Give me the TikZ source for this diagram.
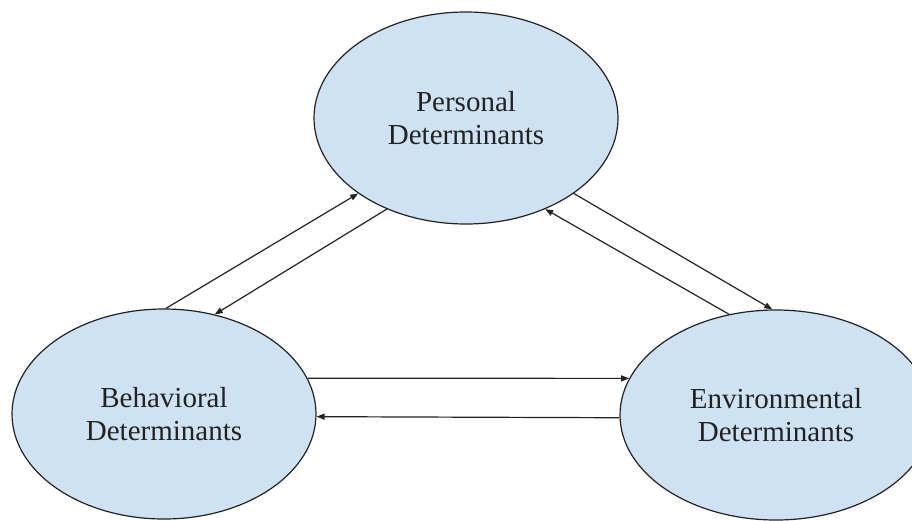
\documentclass[tikz,border=0pt]{standalone}
\usepackage{fontspec}
\setmainfont{Liberation Serif}
\usetikzlibrary{shapes.geometric,arrows.meta}
\definecolor{ellfill}{HTML}{CFE2F3}
\definecolor{inkc}{HTML}{222222}
\tikzset{
  detbox/.style={ellipse, draw=inkc, line width=1.2pt, fill=ellfill, inner sep=0pt,
    align=center, text=inkc, font=\fontsize{29}{33}\selectfont},
  link/.style={draw=inkc, line width=1.2pt, -{Triangle[length=8pt,width=6pt]}}
}
\begin{document}
\begin{tikzpicture}[x=1pt,y=-1pt]
\useasboundingbox (0,0) rectangle (912,520);
\clip (0,0) rectangle (912,520);
\node[detbox, minimum width=304pt, minimum height=212pt] (P) at (466,118) {Personal\\Determinants};
\node[detbox, minimum width=304pt, minimum height=210pt] (B) at (164,414) {Behavioral\\Determinants};
\node[detbox, minimum width=312pt, minimum height=210pt] (E) at (776,415) {Environmental\\Determinants};
\draw[link] (B.89) -- (P.215);
\draw[link] (P.229) -- (B.63);
\draw[link] (P.325) -- (E.92);
\draw[link] (E.115) -- (P.311);
\draw[link] (B.14) -- (E.166);
\draw[link] (E.181) -- (B.359);
\end{tikzpicture}
\end{document}
